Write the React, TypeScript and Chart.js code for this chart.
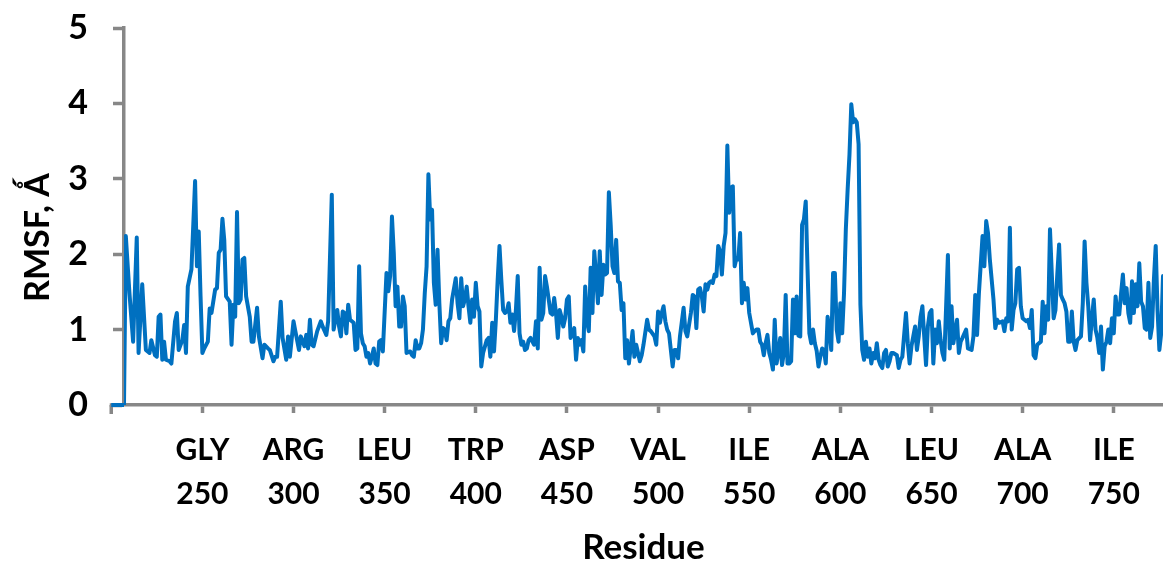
import React, { useEffect, useRef } from "react";
import { Chart, registerables } from "chart.js";

Chart.register(...registerables);

// RMSF (Å) per residue: [residue, rmsf]
const rmsfByResidue: [number, number][] = [
  [200, 0], [201, 0], [202, 0], [203, 0], [204, 0], [205, 0], [206, 0], [207, 0],
  [208, 2.24], [210, 1.48], [212, 0.84], [214, 2.22], [215, 0.69], [217, 1.6], [219, 0.73],
  [221, 0.69], [222, 0.86], [224, 0.66], [225, 0.64], [226, 1.17], [227, 1.2], [228, 0.6],
  [229, 0.84], [230, 0.6], [232, 0.58], [233, 0.55], [235, 1.11], [236, 1.22], [237, 0.73],
  [239, 0.86], [240, 1.06], [241, 0.69], [242, 1.57], [244, 1.8], [246, 2.97], [247, 1.84],
  [248, 2.3], [249, 1.44], [250, 0.69], [251, 0.75], [253, 0.84], [254, 1.28], [255, 1.22],
  [257, 1.53], [258, 1.55], [259, 2.02], [260, 2.06], [261, 2.47], [262, 2.19], [263, 1.44],
  [265, 1.37], [266, 0.8], [267, 1.33], [268, 1.17], [269, 2.56], [270, 1.35], [271, 1.4],
  [272, 1.93], [273, 1.95], [274, 1.44], [276, 1.17], [277, 0.84], [278, 0.84], [280, 1.29],
  [281, 0.91], [283, 0.62], [284, 0.8], [286, 0.75], [287, 0.73], [289, 0.58], [290, 0.64],
  [291, 0.64], [293, 1.37], [294, 0.89], [296, 0.6], [297, 0.91], [298, 0.64], [300, 1.11],
  [301, 0.98], [303, 0.73], [304, 0.91], [306, 0.78], [307, 0.93], [308, 0.75], [309, 1.13],
  [310, 0.8], [311, 0.78], [313, 0.98], [315, 1.11], [316, 1.04], [318, 0.93], [319, 1.11],
  [321, 2.79], [322, 1.0], [324, 1.26], [325, 1.04], [326, 0.91], [327, 1.24], [328, 1.22],
  [329, 0.95], [330, 1.33], [331, 1.13], [333, 1.09], [334, 0.73], [335, 0.75], [336, 1.84],
  [337, 0.95], [338, 0.82], [339, 0.78], [340, 0.64], [341, 0.69], [342, 0.55], [343, 0.64],
  [344, 0.75], [345, 0.55], [346, 0.53], [347, 0.84], [348, 0.86], [349, 0.71], [351, 1.75],
  [352, 1.51], [353, 1.71], [354, 2.5], [355, 2.02], [356, 1.31], [357, 1.57], [358, 1.04],
  [359, 1.04], [360, 1.44], [361, 1.31], [362, 0.69], [364, 0.71], [365, 0.66], [366, 0.64],
  [367, 0.86], [368, 0.75], [369, 0.75], [370, 0.82], [371, 1.0], [372, 1.48], [373, 1.84],
  [374, 3.06], [375, 2.46], [376, 2.59], [377, 1.62], [378, 1.33], [379, 2.06], [380, 1.35],
  [381, 0.82], [382, 1.02], [383, 1.0], [384, 0.86], [385, 1.11], [386, 1.15], [387, 1.4],
  [389, 1.68], [390, 1.35], [391, 1.15], [392, 1.68], [393, 1.31], [394, 1.4], [395, 1.57],
  [396, 1.31], [397, 1.09], [398, 1.4], [399, 1.17], [400, 1.62], [401, 1.31], [402, 1.24],
  [403, 0.51], [404, 0.69], [406, 0.86], [407, 0.89], [408, 0.64], [409, 1.09], [410, 0.71],
  [411, 1.13], [412, 1.66], [413, 2.11], [414, 1.66], [415, 1.26], [416, 1.22], [417, 1.24],
  [418, 1.35], [419, 1.09], [420, 1.2], [421, 0.98], [422, 1.26], [423, 1.71], [424, 0.95],
  [425, 0.8], [426, 0.84], [427, 0.73], [428, 0.75], [429, 0.86], [430, 0.89], [432, 0.8],
  [433, 1.11], [434, 0.75], [435, 1.82], [436, 1.13], [437, 1.22], [438, 1.71], [439, 1.57],
  [440, 1.4], [441, 1.22], [442, 1.2], [443, 1.42], [444, 1.22], [445, 0.89], [446, 1.26],
  [447, 1.17], [448, 1.04], [449, 1.15], [450, 1.4], [451, 1.44], [452, 0.89], [454, 1.02],
  [455, 0.6], [456, 0.89], [457, 0.8], [458, 0.86], [459, 0.71], [460, 1.57], [461, 1.11],
  [462, 0.98], [463, 1.82], [464, 1.22], [465, 2.04], [466, 1.71], [467, 1.35], [468, 2.04],
  [469, 1.46], [470, 1.86], [471, 1.73], [472, 1.75], [473, 2.82], [474, 2.39], [475, 1.84],
  [476, 1.75], [477, 2.19], [478, 1.64], [479, 1.62], [480, 1.26], [481, 1.35], [482, 0.62],
  [483, 0.86], [484, 0.55], [486, 0.98], [487, 0.64], [488, 0.8], [490, 0.58], [491, 0.66],
  [492, 0.8], [494, 1.13], [495, 1.0], [496, 0.98], [498, 0.91], [499, 0.8], [500, 1.24],
  [501, 1.09], [502, 1.22], [503, 1.31], [504, 1.11], [505, 1.0], [506, 0.95], [508, 0.51],
  [509, 0.73], [510, 0.73], [511, 0.62], [512, 0.91], [514, 1.29], [515, 0.98], [516, 0.91],
  [518, 1.22], [519, 1.46], [520, 1.44], [521, 1.02], [522, 1.53], [523, 1.55], [524, 1.44],
  [525, 1.24], [526, 1.6], [527, 1.53], [528, 1.62], [529, 1.64], [530, 1.62], [531, 1.73],
  [532, 1.71], [533, 2.11], [534, 2.04], [535, 1.73], [536, 2.11], [537, 2.28], [538, 3.44],
  [539, 2.55], [540, 2.88], [541, 2.9], [542, 1.84], [543, 1.95], [544, 1.93], [545, 2.28],
  [546, 1.35], [547, 1.62], [548, 1.4], [549, 1.55], [550, 1.22], [552, 0.95], [553, 0.98],
  [554, 1.0], [555, 1.0], [556, 0.84], [557, 0.8], [558, 0.66], [559, 0.82], [560, 0.93],
  [561, 0.69], [562, 0.6], [563, 0.47], [564, 1.13], [565, 0.55], [566, 0.69], [567, 0.89],
  [568, 0.53], [569, 0.69], [570, 1.46], [571, 0.55], [572, 0.55], [573, 0.58], [574, 1.4],
  [575, 0.95], [576, 1.44], [577, 0.92], [578, 0.91], [579, 2.39], [580, 2.46], [581, 2.7],
  [582, 1.8], [583, 0.95], [584, 0.82], [585, 1.0], [586, 0.82], [587, 0.72], [588, 0.51],
  [589, 0.64], [590, 0.75], [591, 0.73], [592, 0.55], [593, 1.17], [594, 1.0], [595, 0.73],
  [596, 1.75], [597, 1.75], [598, 1.0], [599, 0.84], [600, 1.35], [601, 0.95], [602, 1.48],
  [603, 2.33], [604, 2.86], [605, 3.32], [606, 3.99], [607, 3.75], [608, 3.79], [609, 3.75],
  [610, 3.46], [611, 1.33], [612, 0.73], [613, 0.6], [614, 0.84], [615, 0.64], [616, 0.75],
  [617, 0.55], [618, 0.69], [619, 0.62], [620, 0.82], [621, 0.6], [622, 0.53], [623, 0.49],
  [624, 0.69], [625, 0.73], [626, 0.51], [627, 0.58], [628, 0.69], [629, 0.69], [631, 0.66],
  [632, 0.49], [633, 0.6], [634, 0.64], [636, 1.22], [637, 0.82], [638, 0.55], [639, 0.78],
  [640, 0.91], [641, 1.04], [642, 0.73], [643, 0.91], [644, 1.17], [645, 1.31], [646, 0.91],
  [647, 0.53], [648, 1.04], [649, 1.22], [650, 1.26], [651, 0.55], [652, 1.0], [653, 0.82],
  [654, 1.11], [655, 0.86], [656, 0.69], [657, 0.6], [659, 1.99], [660, 0.75], [661, 1.31],
  [662, 0.82], [664, 1.13], [665, 0.69], [666, 0.84], [667, 0.89], [669, 1.0], [670, 0.75],
  [672, 0.73], [673, 0.91], [674, 1.46], [675, 0.93], [676, 1.48], [678, 2.24], [679, 1.84],
  [680, 2.44], [681, 2.28], [682, 1.93], [684, 1.4], [685, 1.02], [686, 1.13], [687, 1.09],
  [689, 1.11], [690, 0.98], [691, 1.15], [692, 1.11], [693, 2.35], [694, 1.0], [695, 1.26],
  [696, 1.35], [697, 1.8], [698, 1.82], [699, 1.31], [700, 1.15], [702, 1.11], [703, 1.13],
  [704, 1.02], [705, 1.26], [706, 0.66], [707, 0.62], [708, 0.8], [710, 0.84], [711, 1.37],
  [712, 0.95], [713, 1.31], [714, 1.13], [715, 2.33], [717, 1.15], [718, 1.26], [719, 1.73],
  [720, 2.13], [721, 1.46], [722, 1.4], [723, 1.35], [724, 1.24], [725, 0.84], [726, 0.84],
  [727, 1.24], [728, 0.84], [729, 0.73], [730, 0.86], [732, 0.91], [733, 1.35], [734, 2.17],
  [735, 1.62], [736, 1.31], [737, 0.86], [738, 1.15], [739, 1.4], [740, 1.0], [741, 0.89],
  [742, 0.69], [743, 1.04], [744, 0.47], [745, 0.78], [746, 0.84], [747, 1.0], [748, 0.82],
  [749, 1.15], [750, 0.95], [751, 1.44], [752, 1.2], [753, 1.2], [754, 1.48], [755, 1.73],
  [756, 1.35], [757, 1.55], [758, 1.22], [759, 1.09], [760, 1.64], [761, 1.22], [762, 1.6],
  [763, 1.31], [764, 1.88], [765, 1.37], [766, 1.31], [767, 1.02], [768, 1.0], [769, 1.62],
  [770, 0.89], [771, 1.04], [772, 1.66], [773, 2.11], [774, 1.26], [775, 0.73], [776, 0.95],
  [777, 1.71],
];

const tickResidues = [250, 300, 350, 400, 450, 500, 550, 600, 650, 700, 750];
const tickNames = ["GLY", "ARG", "LEU", "TRP", "ASP", "VAL", "ILE", "ALA", "LEU", "ALA", "ILE"];
const yTickValues = [0, 1, 2, 3, 4, 5];

const X_AXIS_START = 200; // where the category axis begins
const X_MIN = 207; // where the value axis crosses
const X_MAX = 777;
const Y_MIN = 0;
const Y_MAX = 5;

const xTitle = "Residue";
const yTitle = "RMSF, Ǻ";

const LINE_COLOR = "#0070C0";
const AXIS_COLOR = "#878787";
const FONT = "Lato, 'Open Sans', sans-serif";
const TITLE_FONT = "bold 34px Lato, 'Open Sans', sans-serif";

const axisExtras = {
  id: "axisExtras",
  afterDatasetsDraw(chart: any) {
    const { ctx, chartArea, scales } = chart;
    const xs = scales.x;
    const ys = scales.y;
    const x0 = xs.getPixelForValue(X_AXIS_START);
    const yb = ys.getPixelForValue(Y_MIN);
    ctx.save();
    ctx.strokeStyle = AXIS_COLOR;
    ctx.lineWidth = 3.5;
    ctx.beginPath();
    ctx.moveTo(x0 - 1.5, yb);
    ctx.lineTo(chartArea.left, yb);
    ctx.stroke();
    ctx.beginPath();
    ctx.moveTo(x0, yb);
    ctx.lineTo(x0, yb + 9);
    ctx.stroke();
    // the part of the series that lies before the value-axis crossing
    const pts = rmsfByResidue.filter((p) => p[0] <= X_MIN);
    ctx.strokeStyle = LINE_COLOR;
    ctx.lineWidth = 4;
    ctx.lineJoin = "round";
    ctx.beginPath();
    pts.forEach((p, i) => {
      const px = xs.getPixelForValue(p[0]);
      const py = ys.getPixelForValue(p[1]);
      if (i === 0) ctx.moveTo(px, py);
      else ctx.lineTo(px, py);
    });
    ctx.stroke();
    // value-axis title, sitting a little below the middle of the axis as in the original
    const midY = (chartArea.top + chartArea.bottom) / 2 + 21;
    ctx.translate(38, midY);
    ctx.rotate(-Math.PI / 2);
    ctx.font = TITLE_FONT;
    ctx.fillStyle = "#000";
    ctx.textAlign = "center";
    ctx.textBaseline = "middle";
    ctx.fillText(yTitle, 0, 0);
    ctx.restore();
  },
};

export default function App() {
  const canvasRef = useRef<HTMLCanvasElement | null>(null);

  useEffect(() => {
    const canvas = canvasRef.current;
    if (!canvas) return;
    const chart = new Chart(canvas, {
      type: "line",
      data: {
        datasets: [
          {
            label: "RMSF",
            data: rmsfByResidue
              .filter((p) => p[0] >= X_MIN)
              .map((p) => ({ x: p[0], y: p[1] })),
            borderColor: LINE_COLOR,
            backgroundColor: LINE_COLOR,
            borderWidth: 4,
            pointRadius: 0,
            tension: 0,
            fill: false,
            borderJoinStyle: "round",
            borderCapStyle: "round",
          },
        ],
      },
      options: {
        animation: false,
        responsive: false,
        devicePixelRatio: 1,
        layout: { padding: { top: 28, right: 0, bottom: 0, left: 0 } },
        plugins: {
          legend: { display: false },
          tooltip: { enabled: false },
        },
        scales: {
          x: {
            type: "linear",
            min: X_MIN,
            max: X_MAX,
            afterBuildTicks: (scale: any) => {
              scale.ticks = tickResidues.map((v) => ({ value: v }));
            },
            afterFit: (scale: any) => {
              scale.height = 161;
              scale.paddingLeft = 0;
              scale.paddingRight = 0;
            },
            border: { display: true, color: AXIS_COLOR, width: 3.5 },
            grid: {
              display: true,
              drawOnChartArea: false,
              drawTicks: true,
              tickLength: 8,
              tickWidth: 3.5,
              tickColor: AXIS_COLOR,
            },
            ticks: {
              autoSkip: false,
              maxRotation: 0,
              minRotation: 0,
              padding: 16,
              color: "#000",
              font: { family: FONT, size: 30, weight: "bold", lineHeight: 1.45 },
              callback: (value: any) => {
                const i = tickResidues.indexOf(Number(value));
                return i >= 0 ? [tickNames[i], String(value)] : "";
              },
            },
            title: {
              display: true,
              text: xTitle,
              color: "#000",
              font: { family: FONT, size: 35, weight: "bold", lineHeight: 1.2 },
              padding: { top: 0, bottom: -3 },
            },
          },
          y: {
            type: "linear",
            min: Y_MIN,
            max: Y_MAX,
            afterBuildTicks: (scale: any) => {
              scale.ticks = yTickValues.map((v) => ({ value: v }));
            },
            afterFit: (scale: any) => {
              scale.width = 124;
              scale.paddingTop = 0;
              scale.paddingBottom = 0;
            },
            border: { display: true, color: AXIS_COLOR, width: 3.5 },
            grid: {
              display: true,
              drawOnChartArea: false,
              drawTicks: true,
              tickLength: 11,
              tickWidth: 3.5,
              tickColor: AXIS_COLOR,
            },
            ticks: {
              padding: 25,
              color: "#000",
              font: { family: FONT, size: 34, weight: "bold" },
            },
            title: { display: false, text: yTitle },
          },
        },
      },
      plugins: [axisExtras],
    });
    return () => chart.destroy();
  }, []);

  return (
    <div style={{ position: "fixed", left: 0, top: 0, width: 1163, height: 566, background: "#fff" }}>
      <canvas ref={canvasRef} width={1163} height={566} style={{ display: "block" }} />
    </div>
  );
}
